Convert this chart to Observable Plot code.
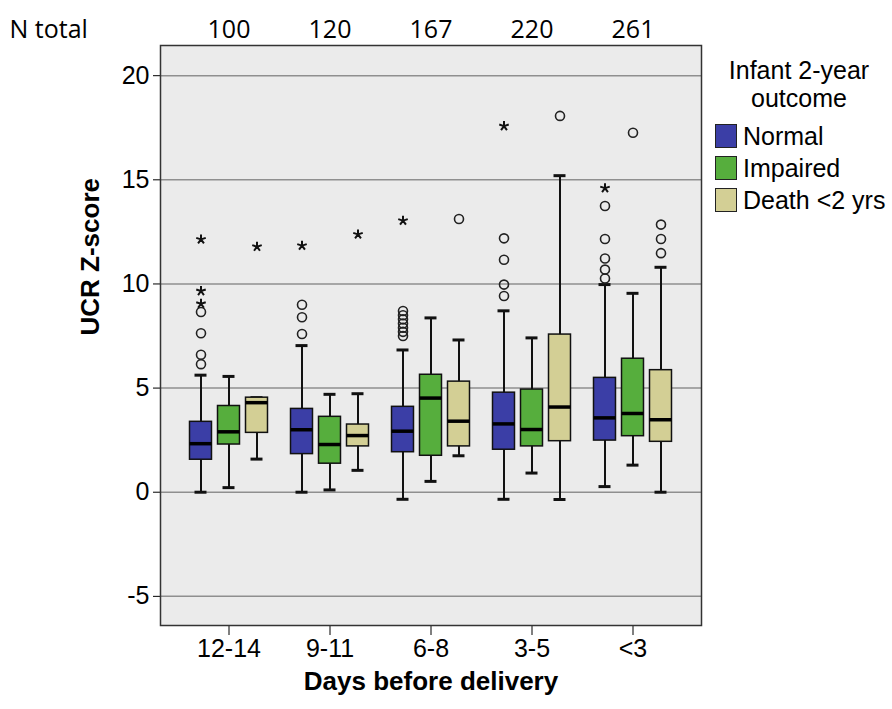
<!DOCTYPE html>
<html>
<head>
<meta charset="utf-8">
<script src="https://cdn.jsdelivr.net/npm/d3@7"></script>
<script src="https://cdn.jsdelivr.net/npm/@observablehq/plot@0.6"></script>
<style>
  body { margin: 0; background: white; }
  #wrap { position: relative; width: 892px; height: 709px; font-family: "Liberation Sans", Arial, sans-serif; }
  #legend { position: absolute; left: 706px; top: 56px; width: 186px; color: black; }
  #legend .title { text-align: center; font-size: 25px; line-height: 28px; }
  #legend .item { display: flex; align-items: center; height: 32px; font-size: 25px; margin-left: 9px; }
  #legend .sw { width: 20px; height: 22px; border: 1.5px solid #222; margin-right: 6px; }
  #legend .items { margin-top: 8px; }
</style>
</head>
<body>
<div id="wrap"></div>
<script>
// ---- data ----
const groups = ["12-14", "9-11", "6-8", "3-5", "<3"];
const nTotal = [100, 120, 167, 220, 261];
const outcomes = ["Normal", "Impaired", "Death <2 yrs"];
const colors = ["#3b3ea6", "#56ae3d", "#d3cf95"];
const yTicks = [-5, 0, 5, 10, 15, 20];
const yTickLabels = ["-5", "0", "5", "10", "15", "20"];

// per group (rows) x outcome (columns)
const whiskerLow  = [[0, 0.22, 1.59], [0, 0.11, 1.05], [-0.34, 0.52, 1.75], [-0.34, 0.92, -0.35], [0.27, 1.3, 0]];
const q1          = [[1.56, 2.29, 2.85], [1.83, 1.37, 2.2], [1.92, 1.75, 2.2], [2.04, 2.2, 2.45], [2.48, 2.69, 2.42]];
const median      = [[2.33, 2.9, 4.3], [3.0, 2.29, 2.72], [2.93, 4.52, 3.41], [3.28, 3.01, 4.09], [3.57, 3.78, 3.48]];
const q3          = [[3.38, 4.14, 4.54], [4.0, 3.62, 3.25], [4.1, 5.64, 5.31], [4.78, 4.93, 7.57], [5.49, 6.41, 5.86]];
const whiskerHigh = [[5.62, 5.56, 4.54], [7.04, 4.7, 4.73], [6.83, 8.37, 7.31], [8.71, 7.41, 15.2], [9.97, 9.55, 10.8]];

// outliers: [group, outcome, values]
const mildOutliers = [
  ["12-14", "Normal", [6.15, 6.6, 7.63, 8.65]],
  ["9-11", "Normal", [7.6, 8.4, 9.0]],
  ["6-8", "Normal", [7.5, 7.7, 7.9, 8.1, 8.3, 8.5, 8.7]],
  ["6-8", "Death <2 yrs", [13.12]],
  ["3-5", "Normal", [9.42, 9.97, 11.16, 12.19]],
  ["3-5", "Death <2 yrs", [18.07]],
  ["<3", "Normal", [10.26, 10.69, 11.22, 12.16, 13.74]],
  ["<3", "Impaired", [17.26]],
  ["<3", "Death <2 yrs", [11.48, 12.16, 12.85]]
];
const extremeOutliers = [
  ["12-14", "Normal", [9.05, 9.66, 12.14]],
  ["12-14", "Death <2 yrs", [11.79]],
  ["9-11", "Normal", [11.84]],
  ["9-11", "Death <2 yrs", [12.38]],
  ["6-8", "Normal", [13.04]],
  ["3-5", "Normal", [17.58]],
  ["<3", "Normal", [14.6]]
];

// ---- build tables ----
const boxes = [];
groups.forEach((g, i) => outcomes.forEach((o, k) => boxes.push({
  group: g, outcome: o, lo: whiskerLow[i][k], q1: q1[i][k], med: median[i][k], q3: q3[i][k], hi: whiskerHigh[i][k]
})));
const flat = (list) => list.flatMap(([g, o, vs]) => vs.map(v => ({group: g, outcome: o, value: v})));
const mild = flat(mildOutliers);
const extreme = flat(extremeOutliers);

// five-armed asterisk symbol (SPSS extreme-value marker)
const asterisk5 = {
  draw(context, size) {
    const r = Math.sqrt(size / Math.PI);
    for (let j = 0; j < 5; j++) {
      const a = (j * 2 * Math.PI) / 5;
      context.moveTo(0, 0);
      context.lineTo(r * Math.sin(a), -r * Math.cos(a));
    }
  }
};

const W = 892, H = 709, mL = 160, mR = 191, mT = 45, mB = 84;
const padOuter = 0.178;
const bw = (W - mL - mR) / (groups.length + 2 * padOuter);
const spacing = 28, halfBox = 11, halfCap = 6;

const marks = [
  Plot.frame({fill: "#ebebeb"}),
  Plot.ruleY(yTicks, {stroke: "#8f8f8f", strokeWidth: 1.5})
];

outcomes.forEach((o, k) => {
  const off = (k - 1) * spacing;
  const sub = boxes.filter(d => d.outcome === o);
  const boxInset = {insetLeft: bw / 2 + off - halfBox, insetRight: bw / 2 - off - halfBox};
  const capInset = {insetLeft: bw / 2 + off - halfCap, insetRight: bw / 2 - off - halfCap};
  marks.push(
    Plot.ruleX(sub, {x: "group", y1: "lo", y2: "hi", dx: off, stroke: "#111", strokeWidth: 2}),
    Plot.tickY(sub, {x: "group", y: "lo", ...capInset, stroke: "#111", strokeWidth: 3}),
    Plot.tickY(sub, {x: "group", y: "hi", ...capInset, stroke: "#111", strokeWidth: 3}),
    Plot.barY(sub, {x: "group", y1: "q1", y2: "q3", ...boxInset, fill: colors[k], stroke: "#111", strokeWidth: 1.5}),
    Plot.tickY(sub, {x: "group", y: "med", ...boxInset, stroke: "#000", strokeWidth: 3.5}),
    Plot.dot(mild.filter(d => d.outcome === o), {x: "group", y: "value", dx: off, r: 4.5, stroke: "#222", strokeWidth: 1.6, fill: "none"}),
    Plot.dot(extreme.filter(d => d.outcome === o), {x: "group", y: "value", dx: off, r: 5, symbol: asterisk5, stroke: "#111", strokeWidth: 2, fill: "none"})
  );
});

marks.push(
  Plot.frame({stroke: "#333", strokeWidth: 1.5}),
  Plot.text(groups, {x: d => d, text: (d, i) => String(nTotal[i]), frameAnchor: "top", dy: -25, fontSize: 25, fontFamily: "Open Sans, Lato, sans-serif", fill: "black"}),
  Plot.text(["N total"], {text: d => d, frameAnchor: "top-left", dx: -151, dy: -25, textAnchor: "start", fontSize: 25, fontFamily: "Open Sans, Lato, sans-serif", fill: "black"}),
  Plot.text(["UCR Z-score"], {text: d => d, frameAnchor: "left", dx: -70, rotate: -90, fontWeight: "bold", fontSize: 26, fill: "black"}),
  Plot.text(["Days before delivery"], {text: d => d, frameAnchor: "bottom", dy: 64, fontWeight: "bold", fontSize: 26, fill: "black"})
);

const chart = Plot.plot({
  width: W, height: H,
  marginLeft: mL, marginRight: mR, marginTop: mT, marginBottom: mB,
  style: {fontFamily: "Liberation Sans, Arial, sans-serif", fontSize: "25px", color: "black", background: "white", overflow: "visible"},
  x: {type: "band", domain: groups, paddingInner: 0, paddingOuter: padOuter, tickSize: 10, tickPadding: 4, label: null},
  y: {domain: [-6.4, 21.45], ticks: yTicks, tickFormat: d => yTickLabels[yTicks.indexOf(d)], tickSize: 7, tickPadding: 4, label: null},
  marks
});

const wrap = document.getElementById("wrap");
wrap.appendChild(chart);

const legend = document.createElement("div");
legend.id = "legend";
legend.innerHTML = `<div class="title">Infant 2-year<br>outcome</div><div class="items">` +
  outcomes.map((o, k) => `<div class="item"><div class="sw" style="background:${colors[k]}"></div><span>${o}</span></div>`).join("") +
  `</div>`;
wrap.appendChild(legend);
</script>
</body>
</html>
